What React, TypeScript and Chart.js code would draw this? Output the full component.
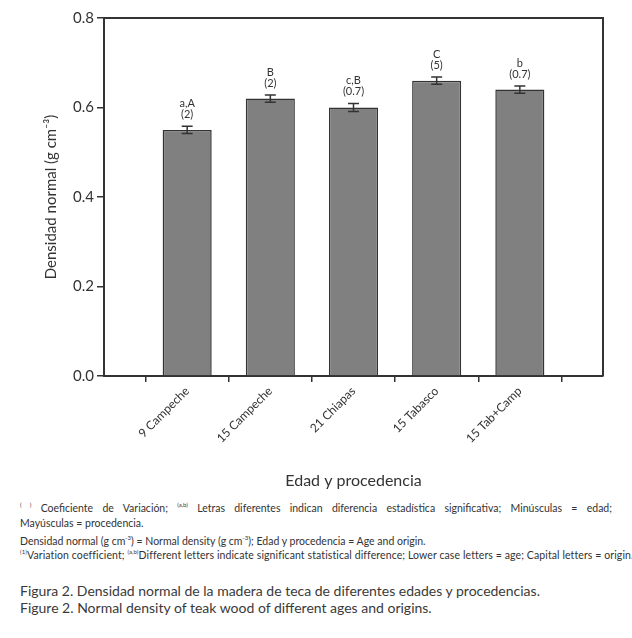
import React, { useEffect, useRef } from "react";
import { Chart, registerables } from "chart.js";

Chart.register(...registerables);

const categories = ["9 Campeche", "15 Campeche", "21 Chiapas", "15 Tabasco", "15 Tab+Camp"];
const positions = [1, 2, 3, 4, 5];
const densities = [0.55, 0.62, 0.60, 0.66, 0.64];
const errors = [0.008, 0.008, 0.009, 0.008, 0.008];
const letters = ["a,A", "B", "c,B", "C", "b"];
const cvLabels = ["(2)", "(2)", "(0.7)", "(5)", "(0.7)"];
const yTicks = [0, 0.2, 0.4, 0.6, 0.8];

const FONT = "Lato, 'Open Sans', sans-serif";
const INK = "#333333";

const overlayPlugin = {
  id: "overlay",
  afterDatasetsDraw(chart: any) {
    const { ctx, chartArea, scales } = chart;
    const xs = scales.x;
    const ys = scales.y;
    ctx.save();
    // frame top & right
    ctx.strokeStyle = INK;
    ctx.lineWidth = 2;
    ctx.beginPath();
    ctx.moveTo(chartArea.left, chartArea.top);
    ctx.lineTo(chartArea.right, chartArea.top);
    ctx.lineTo(chartArea.right, chartArea.bottom);
    ctx.stroke();
    // error bars + labels
    ctx.lineWidth = 1.5;
    ctx.fillStyle = INK;
    ctx.textAlign = "center";
    ctx.textBaseline = "middle";
    positions.forEach((p, i) => {
      const x = xs.getPixelForValue(p);
      const yHi = ys.getPixelForValue(densities[i] + errors[i]);
      const yLo = ys.getPixelForValue(densities[i] - errors[i]);
      const cap = 5.5;
      ctx.beginPath();
      ctx.moveTo(x, yHi);
      ctx.lineTo(x, yLo);
      ctx.moveTo(x - cap, yHi);
      ctx.lineTo(x + cap, yHi);
      ctx.moveTo(x - cap, yLo);
      ctx.lineTo(x + cap, yLo);
      ctx.stroke();
      ctx.font = `11px ${FONT}`;
      ctx.fillText(cvLabels[i], x, yHi - 12);
      ctx.fillText(letters[i], x, yHi - 23);
    });
    ctx.restore();
  },
};

function BarChart() {
  const ref = useRef<HTMLCanvasElement | null>(null);
  useEffect(() => {
    if (!ref.current) return;
    const chart = new Chart(ref.current, {
      type: "bar",
      data: {
        datasets: [
          {
            data: positions.map((p, i) => ({ x: p, y: densities[i] })),
            backgroundColor: "#808080",
            borderColor: INK,
            borderWidth: 1.5,
            barPercentage: 0.59,
            categoryPercentage: 1,
          },
        ],
      },
      options: {
        responsive: false,
        animation: false,
        layout: { padding: { left: 0, right: 29, top: 18, bottom: 0 } },
        plugins: { legend: { display: false }, tooltip: { enabled: false } },
        scales: {
          x: {
            type: "linear",
            min: 0,
            max: 6,
            offset: false,
            afterBuildTicks: (scale: any) => {
              scale.ticks = positions.map((v) => ({ value: v }));
            },
            afterFit: (scale: any) => {
              scale.height = 114;
            },
            ticks: {
              minRotation: 45,
              maxRotation: 45,
              autoSkip: false,
              padding: 2,
              color: INK,
              font: { family: FONT, size: 12 },
              callback: (v: any) => categories[positions.indexOf(Number(v))] ?? "",
            },
            grid: { drawOnChartArea: false, drawTicks: true, tickLength: 6, color: INK, lineWidth: 1.5 },
            border: { display: true, color: INK, width: 2 },
            title: {
              display: true,
              text: "Edad y procedencia",
              color: INK,
              font: { family: FONT, size: 16 },
              padding: { top: 2, bottom: 0 },
            },
          },
          y: {
            min: 0,
            max: 0.8,
            afterBuildTicks: (scale: any) => {
              scale.ticks = yTicks.map((v) => ({ value: v }));
            },
            afterFit: (scale: any) => {
              scale.width = 104;
            },
            ticks: {
              padding: 3,
              color: INK,
              font: { family: FONT, size: 15 },
              callback: (v: any) => Number(v).toFixed(1),
            },
            grid: { drawOnChartArea: false, drawTicks: true, tickLength: 7, color: INK, lineWidth: 1.5 },
            border: { display: true, color: INK, width: 2 },
            title: {
              display: true,
              text: "Densidad normal (g cm⁻³)",
              color: INK,
              font: { family: FONT, size: 15 },
              padding: { top: 42, bottom: 0 },
            },
          },
        },
      },
      plugins: [overlayPlugin],
    } as any);
    return () => chart.destroy();
  }, []);
  return <canvas ref={ref} width={632} height={490} style={{ display: "block" }} />;
}

const noteStyle: React.CSSProperties = {
  position: "absolute",
  left: 20,
  width: 592,
  fontFamily: FONT,
  fontSize: 10.5,
  color: INK,
  lineHeight: "14px",
  whiteSpace: "nowrap",
};

const capStyle: React.CSSProperties = {
  ...noteStyle,
  fontSize: 14,
  lineHeight: "17px",
  color: "#3a3a3a",
};

export default function App() {
  return (
    <div style={{ position: "absolute", left: 0, top: 0, width: 632, height: 638, background: "#fff" }}>
      <BarChart />
      <div style={{ ...noteStyle, top: 498, textAlign: "justify", textAlignLast: "justify" as any, whiteSpace: "normal" }}>
        <sup style={{ fontSize: 6 }}>( )</sup> Coeficiente de Variación; <sup style={{ fontSize: 6 }}>(a,b)</sup> Letras diferentes indican diferencia estadística significativa; Minúsculas = edad;
      </div>
      <div style={{ ...noteStyle, top: 516 }}>Mayúsculas = procedencia.</div>
      <div style={{ ...noteStyle, top: 531 }}>
        Densidad normal (g cm<sup style={{ fontSize: 6 }}>-3</sup>) = Normal density (g cm<sup style={{ fontSize: 6 }}>-3</sup>); Edad y procedencia = Age and origin.
      </div>
      <div style={{ ...noteStyle, top: 545, letterSpacing: "0.1px" }}>
        <sup style={{ fontSize: 6 }}>(1)</sup>Variation coefficient; <sup style={{ fontSize: 6 }}>(a,b)</sup>Different letters indicate significant statistical difference; Lower case letters = age; Capital letters = origin.
      </div>
      <div style={{ ...capStyle, top: 582 }}>
        Figura 2. Densidad normal de la madera de teca de diferentes edades y procedencias.
      </div>
      <div style={{ ...capStyle, top: 599 }}>
        Figure 2. Normal density of teak wood of different ages and origins.
      </div>
    </div>
  );
}
